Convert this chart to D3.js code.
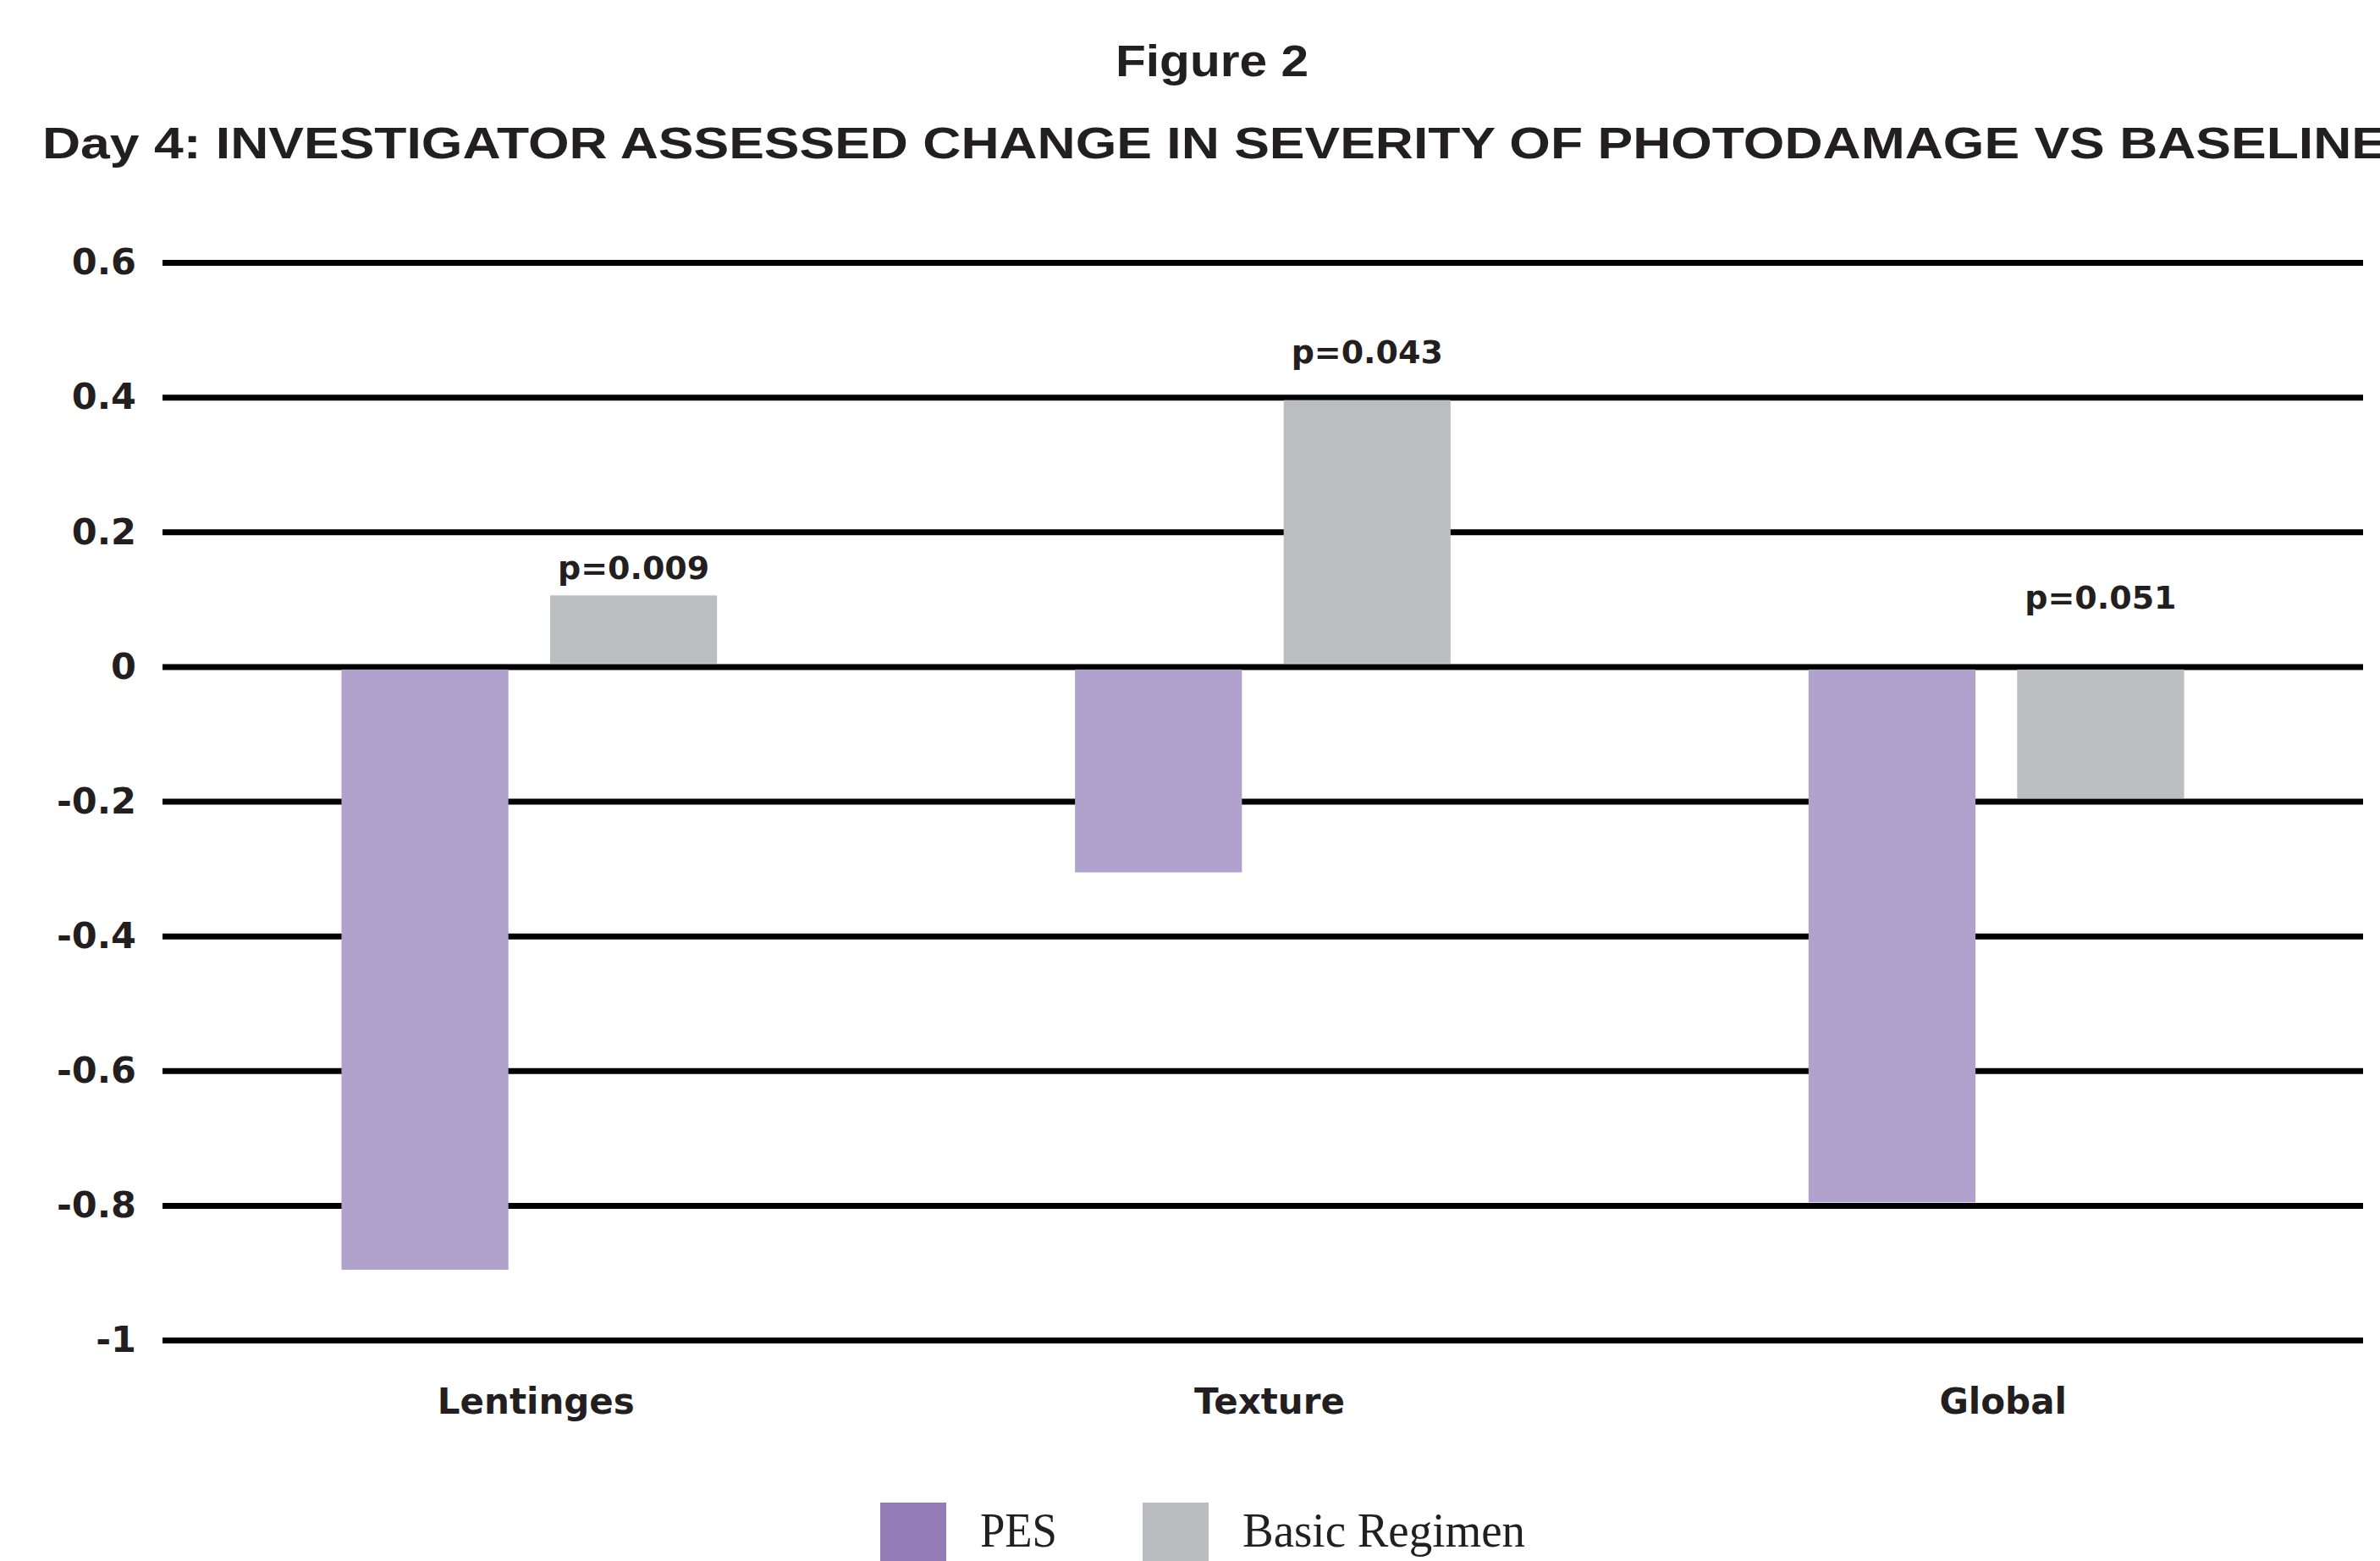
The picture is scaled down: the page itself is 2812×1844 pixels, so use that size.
<!DOCTYPE html>
<html lang="en">
<head>
  <meta charset="UTF-8">
  <title>Figure 2: Day 4 change in severity of photodamage</title>
  <script src="https://d3js.org/d3.v7.min.js"></script>
  <style>
    html, body {
      margin: 0;
      padding: 0;
      background: #fff;
    }
    svg {
      display: block;
    }
    .title {
      font-family: "Liberation Sans", Arial, sans-serif;
      font-weight: bold;
      fill: #231f20;
    }
    .axis text {
      font-family: "DejaVu Sans", sans-serif;
      font-weight: bold;
      font-size: 43px;
      fill: #231f20;
    }
    .cat-label {
      font-family: "DejaVu Sans", sans-serif;
      font-weight: bold;
      font-size: 42px;
      fill: #231f20;
    }
    .p-label {
      font-family: "DejaVu Sans", sans-serif;
      font-weight: bold;
      font-size: 38px;
      fill: #231f20;
    }
    .legend text {
      font-family: "Liberation Serif", "Times New Roman", serif;
      font-size: 58px;
      fill: #231f20;
    }
  </style>
</head>
<body>
  <div id="chart"></div>

  <script>
    // values
    const categories = ["Lentinges", "Texture", "Global"];
    const series = ["PES", "Basic Regimen"];
    const pesValues = [-0.9, -0.31, -0.8];
    const basicValues = [0.11, 0.4, -0.2];
    const pValues = ["p=0.009", "p=0.043", "p=0.051"];
    const pLabelAt = [0.13, 0.45, 0.086]; // where the p label baseline sits, in y units
    const yTicks = [0.6, 0.4, 0.2, 0, -0.2, -0.4, -0.6, -0.8, -1];
    const yTickLabels = ["0.6", "0.4", "0.2", "0", "-0.2", "-0.4", "-0.6", "-0.8", "-1"];

    const width = 2812;
    const height = 1844;
    const margin = { left: 192, right: 20 };
    const lineW = 7;

    const barColors = d3.scaleOrdinal().domain(series).range(["#b1a1cd", "#bcbdc0"]);
    const legendColors = d3.scaleOrdinal().domain(series).range(["#927bb7", "#bbbcbf"]);

    const rows = categories.map((c, i) => ({
      category: c,
      values: [
        { series: "PES", value: pesValues[i] },
        { series: "Basic Regimen", value: basicValues[i] }
      ],
      p: pValues[i],
      pAt: pLabelAt[i]
    }));

    const svg = d3.select("#chart").append("svg")
      .attr("width", width)
      .attr("height", height);

    svg.append("rect").attr("width", width).attr("height", height).attr("fill", "#fff");

    // titles
    svg.append("text")
      .attr("class", "title")
      .attr("x", 1432)
      .attr("y", 90)
      .attr("text-anchor", "middle")
      .attr("font-size", 51)
      .attr("textLength", 228)
      .attr("lengthAdjust", "spacingAndGlyphs")
      .text("Figure 2");

    svg.append("text")
      .attr("class", "title")
      .attr("x", 50)
      .attr("y", 187)
      .attr("font-size", 52)
      .attr("textLength", 2770)
      .attr("lengthAdjust", "spacingAndGlyphs")
      .text("Day 4: INVESTIGATOR ASSESSED CHANGE IN SEVERITY OF PHOTODAMAGE VS BASELINE");

    const x0 = d3.scaleBand()
      .domain(categories)
      .range([margin.left, width - margin.right])
      .paddingInner(0.488)
      .paddingOuter(0.244);

    const x1 = d3.scaleBand()
      .domain(series)
      .range([0, x0.bandwidth()])
      .paddingInner(0.2);

    const y = d3.scaleLinear()
      .domain([-1, 0.6])
      .range([1583, 310]);

    // gridlines + tick labels
    const yAxis = d3.axisLeft(y)
      .tickValues(yTicks)
      .tickFormat((d, i) => yTickLabels[i])
      .tickSize(-(width - margin.right - margin.left))
      .tickPadding(31);

    svg.append("g")
      .attr("class", "axis")
      .attr("transform", `translate(${margin.left},0)`)
      .call(yAxis)
      .call(g => g.select(".domain").remove())
      .call(g => g.selectAll(".tick line")
        .attr("stroke", "#000")
        .attr("stroke-width", lineW));

    // bars (kept clear of the gridline at each end)
    const groups = svg.append("g")
      .selectAll("g")
      .data(rows)
      .join("g")
      .attr("transform", d => `translate(${x0(d.category)},0)`);

    groups.selectAll("rect")
      .data(d => d.values)
      .join("rect")
      .attr("x", d => x1(d.series))
      .attr("width", x1.bandwidth())
      .attr("y", d => y(Math.max(d.value, 0)) + lineW / 2)
      .attr("height", d => Math.abs(y(d.value) - y(0)) - lineW)
      .attr("fill", d => barColors(d.series));

    // p-values above the Basic Regimen bars
    groups.append("text")
      .attr("class", "p-label")
      .attr("x", x1("Basic Regimen") + x1.bandwidth() / 2)
      .attr("y", d => y(d.pAt))
      .attr("text-anchor", "middle")
      .text(d => d.p);

    // category labels
    svg.append("g")
      .selectAll("text")
      .data(categories)
      .join("text")
      .attr("class", "cat-label")
      .attr("x", d => x0(d) + x0.bandwidth() / 2 + 8)
      .attr("y", 1670)
      .attr("text-anchor", "middle")
      .text(d => d);

    // legend
    const legendItems = [
      { name: "PES", x: 1040, textLen: 91 },
      { name: "Basic Regimen", x: 1350, textLen: 334 }
    ];

    const legend = svg.append("g").attr("class", "legend");

    legend.selectAll("rect")
      .data(legendItems)
      .join("rect")
      .attr("x", d => d.x)
      .attr("y", 1775)
      .attr("width", 78)
      .attr("height", 78)
      .attr("fill", d => legendColors(d.name));

    legend.selectAll("text")
      .data(legendItems)
      .join("text")
      .attr("x", d => d.x + 118)
      .attr("y", 1827)
      .attr("textLength", d => d.textLen)
      .attr("lengthAdjust", "spacingAndGlyphs")
      .text(d => d.name);
  </script>
</body>
</html>
